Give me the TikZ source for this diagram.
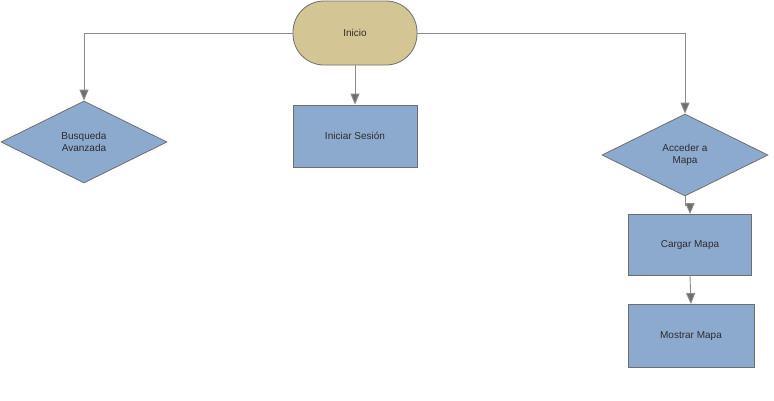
\documentclass[tikz,border=0pt]{standalone}
\usepackage{fontspec}
\setmainfont{Liberation Sans}
\usepackage{tikz}
\usepackage{xcolor}
\usetikzlibrary{shapes.geometric, arrows.meta, positioning}
\definecolor{boxblue}{RGB}{140, 170, 206}
\definecolor{starttan}{RGB}{212, 198, 148}
\definecolor{edgegray}{RGB}{110, 110, 110}
\definecolor{linegray}{RGB}{140, 140, 140}
\definecolor{textgray}{RGB}{45, 45, 45}

\begin{document}
\begin{tikzpicture}[x=1pt, y=-1pt,
    every node/.style={font=\fontsize{10}{12.5}\selectfont, text=textgray, align=center},
    startnode/.style={rectangle, rounded corners=31pt, draw=edgegray, line width=0.8pt, fill=starttan, minimum width=124pt, minimum height=64pt},
    procbox/.style={rectangle, draw=edgegray, line width=0.8pt, fill=boxblue, minimum width=124pt, minimum height=62pt},
    decision/.style={diamond, draw=edgegray, line width=0.8pt, fill=boxblue, inner sep=0pt, minimum width=166pt, minimum height=82pt},
    arr/.style={draw=linegray, line width=0.9pt, -{Triangle[length=11pt, width=9pt, fill=edgegray]}}
]
    \useasboundingbox (0,0) rectangle (774,400);

    \node[startnode] (inicio) at (355, 33) {Inicio};
    \node[procbox] (sesion) at (355, 136) {Iniciar Sesión};
    \node[decision] (busqueda) at (84, 142) {Busqueda\\Avanzada};
    \node[decision] (acceder) at (685, 155) {Acceder a\\Mapa};
    \node[procbox, minimum width=123pt, minimum height=61pt] (cargar) at (690, 245) {Cargar Mapa};
    \node[procbox, minimum width=126pt, minimum height=63pt] (mostrar) at (691, 336) {Mostrar Mapa};

    \draw[arr] (inicio.west) -| (busqueda.north);
    \draw[arr] (inicio.east) -| (acceder.north);
    \draw[arr] (inicio.south) -- (sesion.north);
    \draw[arr] (acceder.south) -- ++(0, 9) -| (cargar.north);
    \draw[arr] (cargar.south) -- (mostrar.north);
\end{tikzpicture}
\end{document}
